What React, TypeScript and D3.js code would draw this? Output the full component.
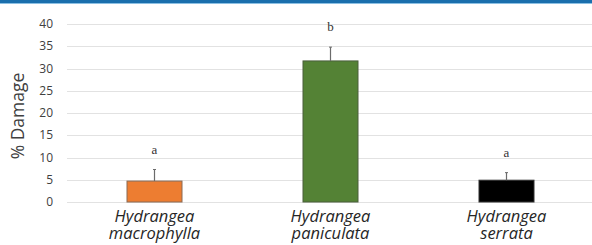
import React, { useEffect, useRef } from 'react';
import * as d3 from 'd3';

const genus = ['Hydrangea', 'Hydrangea', 'Hydrangea'];
const species = ['macrophylla', 'paniculata', 'serrata'];
const damage = [4.7, 31.7, 4.9];
const errors = [2.6, 3.1, 1.7];
const letters = ['a', 'b', 'a'];
const yTicks = [0, 5, 10, 15, 20, 25, 30, 35, 40];

const fills = ['#ED7D31', '#548235', '#000000'];
const strokes = ['#8a6a55', '#4a5e3c', '#333333'];

const App = () => {
  const svgRef = useRef<SVGSVGElement>(null);

  useEffect(() => {
    const svg = d3.select(svgRef.current);
    const width = 592;
    const height = 245;
    const margin = { top: 24, right: 0, bottom: 43, left: 66.5 };

    svg.selectAll('*').remove();

    // blue band along the top edge
    svg.append('rect').attr('x', 0).attr('y', 0).attr('width', width).attr('height', 3).attr('fill', '#1a6fad');
    svg.append('rect').attr('x', 0).attr('y', 3).attr('width', width).attr('height', 1).attr('fill', '#8cc0e3');

    const x = d3.scaleBand().domain(species).range([margin.left, 594.5]).padding(0);
    const y = d3.scaleLinear().domain([0, 40]).range([height - margin.bottom, margin.top]);

    // gridlines
    svg
      .append('g')
      .selectAll('line')
      .data(yTicks)
      .enter()
      .append('line')
      .attr('x1', 67)
      .attr('x2', width)
      .attr('y1', d => Math.round(y(d)) + 0.5)
      .attr('y2', d => Math.round(y(d)) + 0.5)
      .attr('stroke', '#e2e2e2')
      .attr('stroke-width', 1);

    // y tick labels
    svg
      .append('g')
      .selectAll('text')
      .data(yTicks)
      .enter()
      .append('text')
      .attr('x', 53)
      .attr('y', d => y(d))
      .attr('dy', '0.35em')
      .attr('text-anchor', 'end')
      .style('font-family', "'Open Sans', sans-serif")
      .style('font-size', '12px')
      .attr('fill', '#404040')
      .text(d => d);

    // y axis title
    svg
      .append('text')
      .attr('transform', `translate(24,${(y(0) + y(40)) / 2 + 3}) rotate(-90)`)
      .attr('text-anchor', 'middle')
      .style('font-family', "'Open Sans', sans-serif")
      .style('font-size', '17.5px')
      .attr('fill', '#404040')
      .text('% Damage');

    const barW = 55;
    const cx = (i: number) => (x(species[i]) as number) + x.bandwidth() / 2;

    const groups = svg.append('g').selectAll('g').data(damage).enter().append('g');

    groups
      .append('rect')
      .attr('x', (d, i) => cx(i) - barW / 2)
      .attr('y', d => y(d))
      .attr('width', barW)
      .attr('height', d => y(0) - y(d))
      .attr('fill', (d, i) => fills[i])
      .attr('stroke', (d, i) => strokes[i])
      .attr('stroke-width', 1);

    // error bars
    groups
      .append('line')
      .attr('x1', (d, i) => cx(i))
      .attr('x2', (d, i) => cx(i))
      .attr('y1', d => y(d))
      .attr('y2', (d, i) => y(d + errors[i]))
      .attr('stroke', '#6b6b6b')
      .attr('stroke-width', 1.2);
    groups
      .append('line')
      .attr('x1', (d, i) => cx(i) - 1.5)
      .attr('x2', (d, i) => cx(i) + 1.5)
      .attr('y1', (d, i) => y(d + errors[i]))
      .attr('y2', (d, i) => y(d + errors[i]))
      .attr('stroke', '#6b6b6b')
      .attr('stroke-width', 1);

    // significance letters
    groups
      .append('text')
      .attr('x', (d, i) => cx(i))
      .attr('y', (d, i) => y(d + errors[i]) - 16)
      .attr('text-anchor', 'middle')
      .style('font-family', "'Liberation Serif', serif")
      .style('font-size', '13px')
      .attr('fill', '#333')
      .text((d, i) => letters[i]);

    // category labels, two separate lines each (tight line spacing as in the original)
    const labelStyle = (sel: any) =>
      sel
        .attr('text-anchor', 'middle')
        .style('font-family', "'Open Sans', sans-serif")
        .style('font-size', '16.5px')
        .style('font-style', 'italic')
        .attr('fill', '#262626');
    svg.append('g').selectAll('text').data(genus).enter().append('text')
      .call(labelStyle)
      .attr('x', (d, i) => cx(i))
      .attr('y', 222)
      .text(d => d);
    svg.append('g').selectAll('text').data(species).enter().append('text')
      .call(labelStyle)
      .attr('x', (d, i) => cx(i))
      .attr('y', 238.5)
      .text(d => d);
  }, []);

  return (
    <svg
      ref={svgRef}
      width={592}
      height={245}
      style={{ position: 'absolute', left: 0, top: 0, background: '#fff' }}
    />
  );
};

export default App;
